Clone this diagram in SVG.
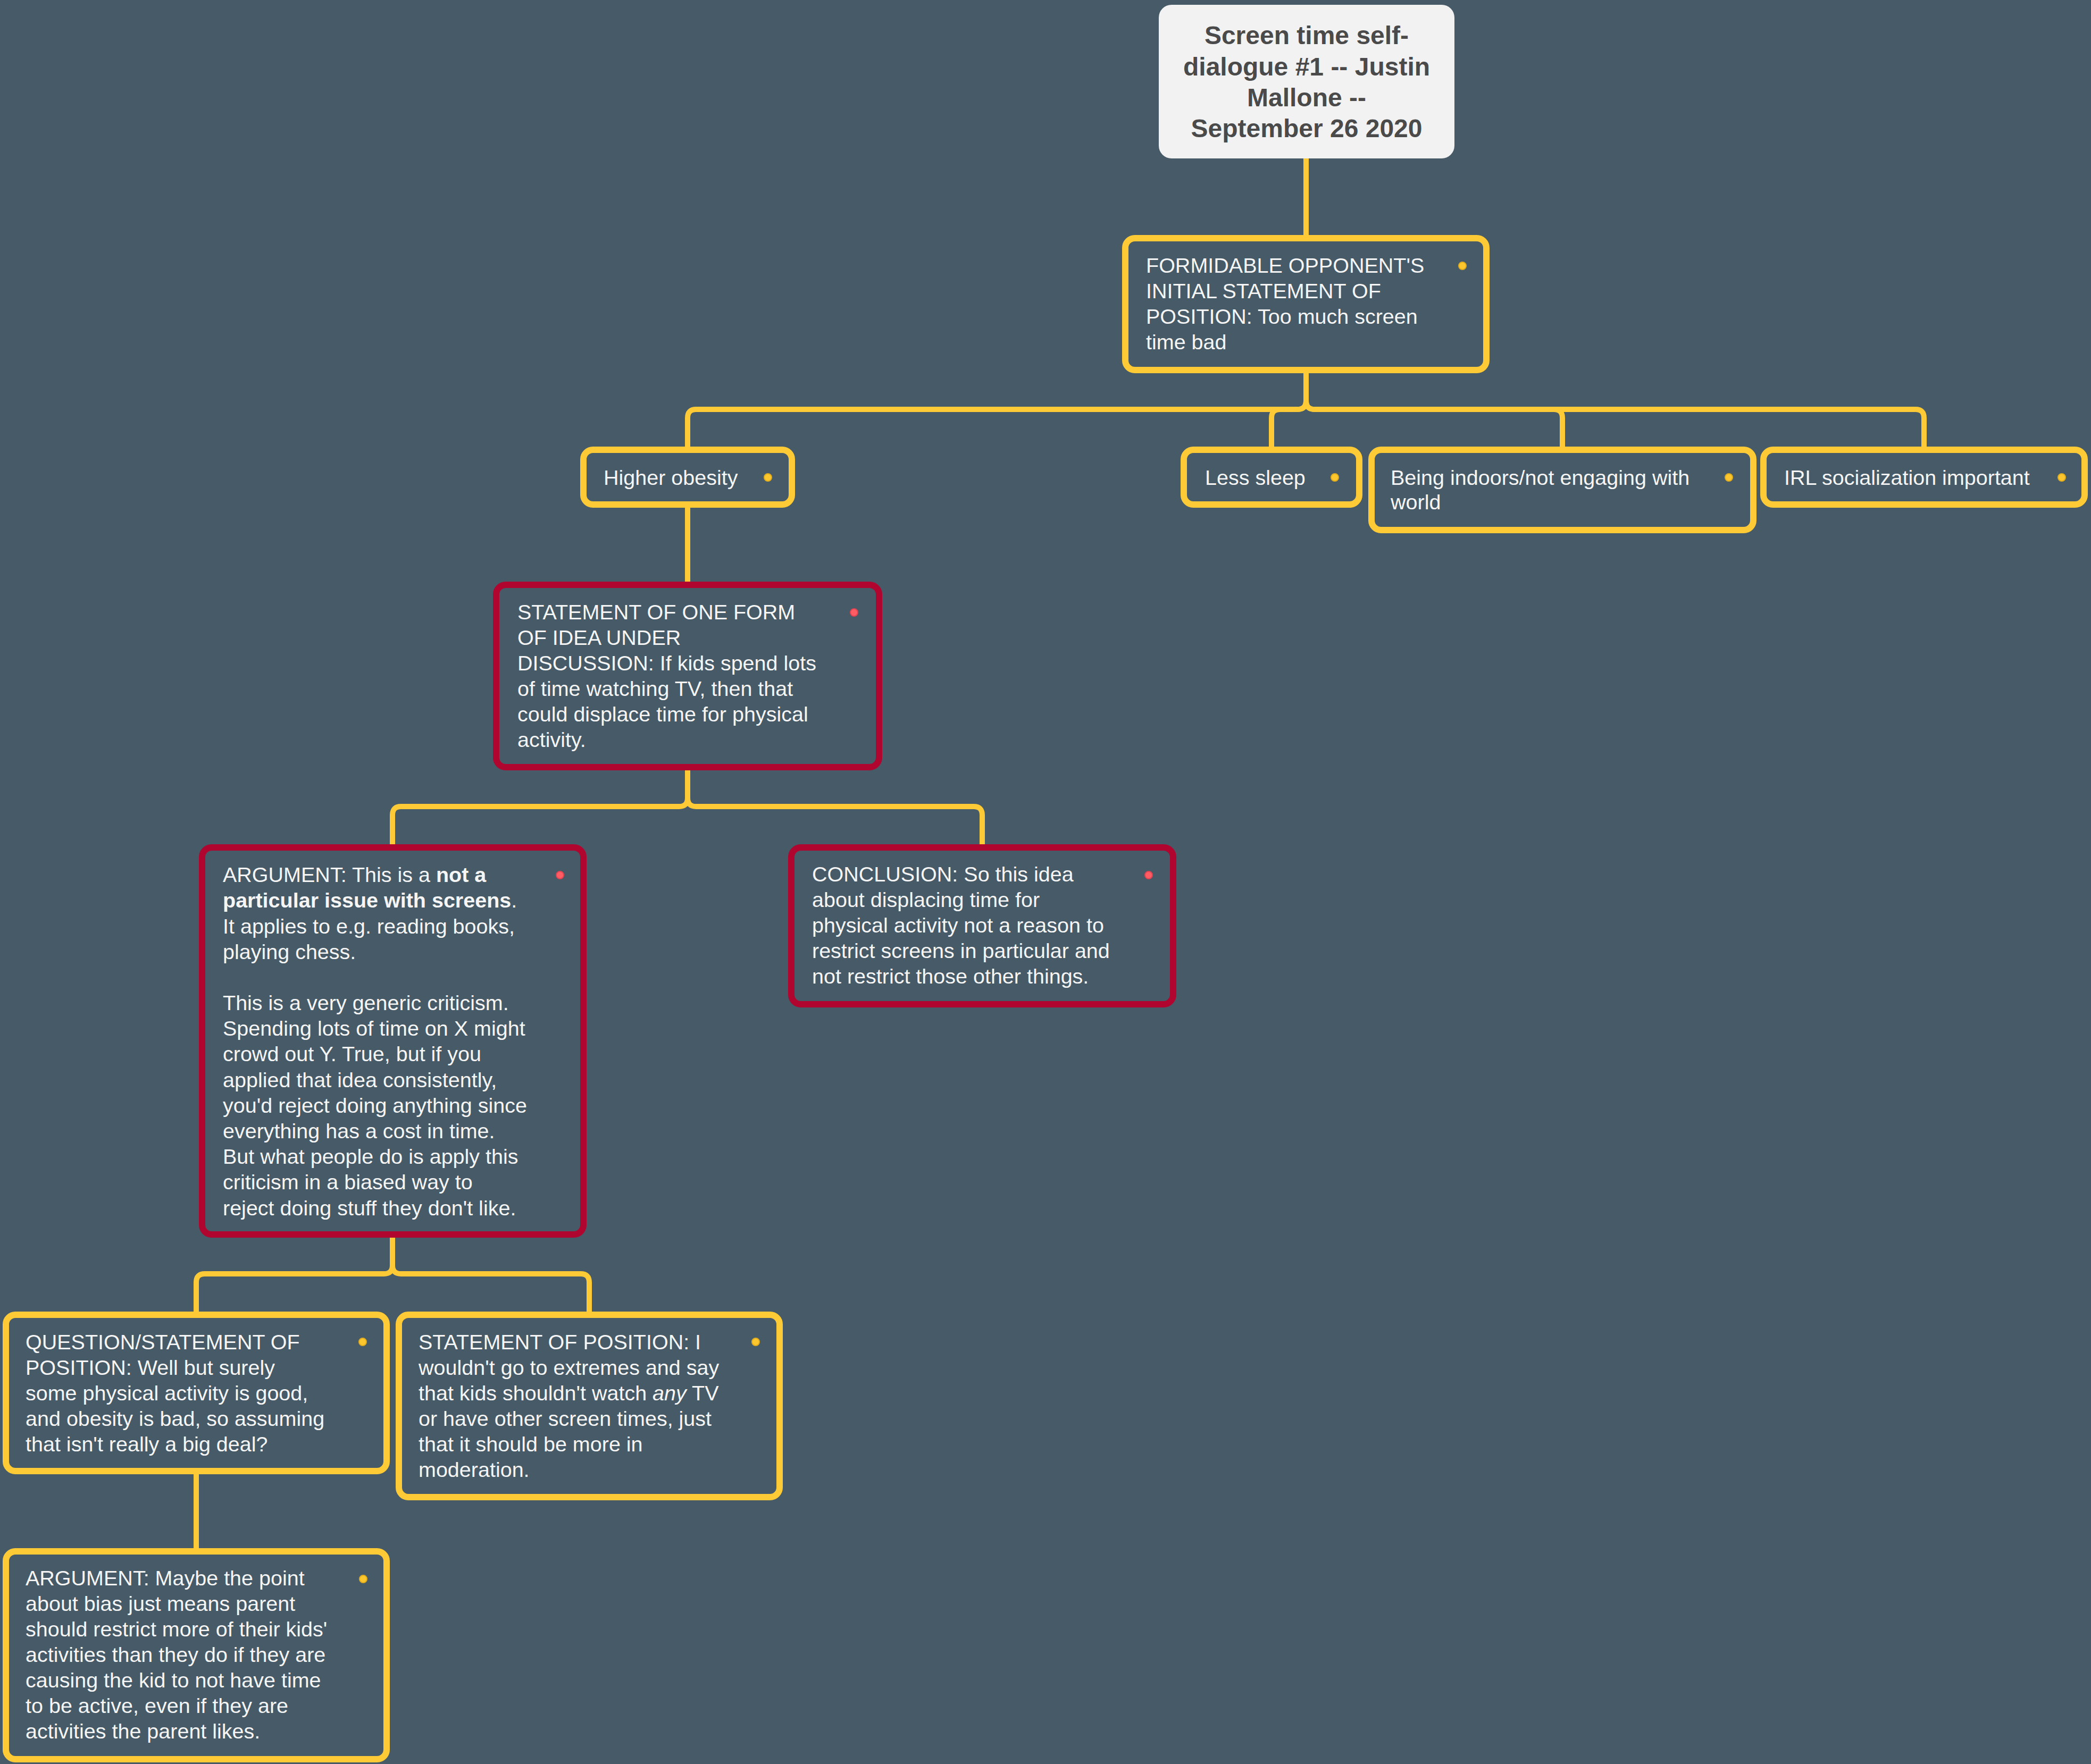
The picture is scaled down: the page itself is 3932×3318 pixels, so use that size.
<svg xmlns="http://www.w3.org/2000/svg" width="3932" height="3318" viewBox="0 0 3932 3318">
<style>
.bg{fill:#475a67}
.box{fill:#475a67;stroke-width:12}
.y{stroke:#fecb37}
.r{stroke:#b0052f}
.t{font-family:"Liberation Sans",Arial,Helvetica,sans-serif;font-size:39.5px;fill:#f5f5f5}
.title{font-family:"Liberation Sans",Arial,Helvetica,sans-serif;font-size:48px;font-weight:bold;fill:#4a4a4a;text-anchor:middle}
.dy{fill:#fcc72e;stroke:#e2ad1c;stroke-width:2}
.dr{fill:#ff5c63;stroke:#e04452;stroke-width:2}
.c{fill:none;stroke:#fecb37;stroke-width:10}
.b{font-weight:bold}
</style>
<rect class="bg" x="0" y="0" width="3932" height="3318"/>
<g id="connectors">
<path class="c" d="M2456 298 V448"/>
<path class="c" d="M2456 696 V754 Q2456 770 2440 770 H1309 Q1293 770 1293 786 V846"/>
<path class="c" d="M2456 696 V754 Q2456 770 2440 770 H2407 Q2391 770 2391 786 V846"/>
<path class="c" d="M2456 696 V754 Q2456 770 2472 770 H2922 Q2938 770 2938 786 V846"/>
<path class="c" d="M2456 696 V754 Q2456 770 2472 770 H3602 Q3618 770 3618 786 V846"/>
<path class="c" d="M1293 949 V1100"/>
<path class="c" d="M1293 1443 V1501 Q1293 1517 1277 1517 H754 Q738 1517 738 1533 V1594"/>
<path class="c" d="M1293 1443 V1501 Q1293 1517 1309 1517 H1831 Q1847 1517 1847 1533 V1594"/>
<path class="c" d="M738 2322 V2380 Q738 2396 722 2396 H385 Q369 2396 369 2412 V2473"/>
<path class="c" d="M738 2322 V2380 Q738 2396 754 2396 H1092 Q1108 2396 1108 2412 V2473"/>
<path class="c" d="M369 2767 V2918"/>
</g>
<g id="root">
<rect x="2179" y="9" width="556" height="289" rx="24" fill="#f2f2f2"/>
<text class="title" x="2457" y="83">Screen time self-</text>
<text class="title" x="2457" y="142">dialogue #1 -- Justin</text>
<text class="title" x="2457" y="200">Mallone --</text>
<text class="title" x="2457" y="258">September 26 2020</text>
</g>
<g id="formidable">
<rect class="box y" x="2116" y="448" width="679" height="248" rx="18"/>
<text class="t" x="2155" y="513">FORMIDABLE OPPONENT'S</text>
<text class="t" x="2155" y="561">INITIAL STATEMENT OF</text>
<text class="t" x="2155" y="609">POSITION: Too much screen</text>
<text class="t" x="2155" y="657">time bad</text>
<circle class="dy" cx="2750" cy="500" r="7"/>
</g>
<g id="obesity">
<rect class="box y" x="1097" y="846" width="392" height="103" rx="18"/>
<text class="t" x="1135" y="912">Higher obesity</text>
<circle class="dy" cx="1444" cy="898" r="7"/>
</g>
<g id="sleep">
<rect class="box y" x="2226" y="846" width="330" height="103" rx="18"/>
<text class="t" x="2266" y="912">Less sleep</text>
<circle class="dy" cx="2510" cy="898" r="7"/>
</g>
<g id="indoors">
<rect class="box y" x="2579" y="846" width="718" height="151" rx="18"/>
<text class="t" x="2615" y="912">Being indoors/not engaging with</text>
<text class="t" x="2615" y="958">world</text>
<circle class="dy" cx="3251" cy="898" r="7"/>
</g>
<g id="irl">
<rect class="box y" x="3316" y="846" width="604" height="103" rx="18"/>
<text class="t" x="3355" y="912">IRL socialization important</text>
<circle class="dy" cx="3877" cy="898" r="7"/>
</g>
<g id="statement-idea">
<rect class="box r" x="933" y="1100" width="720" height="343" rx="18"/>
<text class="t" x="973" y="1165">STATEMENT OF ONE FORM</text>
<text class="t" x="973" y="1213">OF IDEA UNDER</text>
<text class="t" x="973" y="1261">DISCUSSION: If kids spend lots</text>
<text class="t" x="973" y="1309">of time watching TV, then that</text>
<text class="t" x="973" y="1357">could displace time for physical</text>
<text class="t" x="973" y="1405">activity.</text>
<circle class="dr" cx="1606" cy="1152" r="7"/>
</g>
<g id="argument-1">
<rect class="box r" x="380" y="1594" width="717" height="728" rx="18"/>
<text class="t" x="419" y="1659">ARGUMENT: This is a <tspan class="b">not a</tspan></text>
<text class="t" x="419" y="1707"><tspan class="b">particular issue with screens</tspan>.</text>
<text class="t" x="419" y="1756">It applies to e.g. reading books,</text>
<text class="t" x="419" y="1804">playing chess.</text>
<text class="t" x="419" y="1900">This is a very generic criticism.</text>
<text class="t" x="419" y="1948">Spending lots of time on X might</text>
<text class="t" x="419" y="1996">crowd out Y. True, but if you</text>
<text class="t" x="419" y="2045">applied that idea consistently,</text>
<text class="t" x="419" y="2093">you'd reject doing anything since</text>
<text class="t" x="419" y="2141">everything has a cost in time.</text>
<text class="t" x="419" y="2189">But what people do is apply this</text>
<text class="t" x="419" y="2237">criticism in a biased way to</text>
<text class="t" x="419" y="2286">reject doing stuff they don't like.</text>
<circle class="dr" cx="1053" cy="1646" r="7"/>
</g>
<g id="conclusion">
<rect class="box r" x="1488" y="1594" width="718" height="295" rx="18"/>
<text class="t" x="1527" y="1658">CONCLUSION: So this idea</text>
<text class="t" x="1527" y="1706">about displacing time for</text>
<text class="t" x="1527" y="1754">physical activity not a reason to</text>
<text class="t" x="1527" y="1802">restrict screens in particular and</text>
<text class="t" x="1527" y="1850">not restrict those other things.</text>
<circle class="dr" cx="2160" cy="1646" r="7"/>
</g>
<g id="question">
<rect class="box y" x="11" y="2473" width="716" height="294" rx="18"/>
<text class="t" x="48" y="2538">QUESTION/STATEMENT OF</text>
<text class="t" x="48" y="2586">POSITION: Well but surely</text>
<text class="t" x="48" y="2634">some physical activity is good,</text>
<text class="t" x="48" y="2682">and obesity is bad, so assuming</text>
<text class="t" x="48" y="2730">that isn't really a big deal?</text>
<circle class="dy" cx="682" cy="2524" r="7"/>
</g>
<g id="statement-position">
<rect class="box y" x="750" y="2473" width="716" height="343" rx="18"/>
<text class="t" x="787" y="2538">STATEMENT OF POSITION: I</text>
<text class="t" x="787" y="2586">wouldn't go to extremes and say</text>
<text class="t" x="787" y="2634">that kids shouldn't watch <tspan font-style="italic">any</tspan> TV</text>
<text class="t" x="787" y="2682">or have other screen times, just</text>
<text class="t" x="787" y="2730">that it should be more in</text>
<text class="t" x="787" y="2778">moderation.</text>
<circle class="dy" cx="1421" cy="2524" r="7"/>
</g>
<g id="argument-2">
<rect class="box y" x="11" y="2918" width="716" height="391" rx="18"/>
<text class="t" x="48" y="2982">ARGUMENT: Maybe the point</text>
<text class="t" x="48" y="3030">about bias just means parent</text>
<text class="t" x="48" y="3078">should restrict more of their kids'</text>
<text class="t" x="48" y="3126">activities than they do if they are</text>
<text class="t" x="48" y="3174">causing the kid to not have time</text>
<text class="t" x="48" y="3222">to be active, even if they are</text>
<text class="t" x="48" y="3270">activities the parent likes.</text>
<circle class="dy" cx="683" cy="2970" r="7"/>
</g>
</svg>
